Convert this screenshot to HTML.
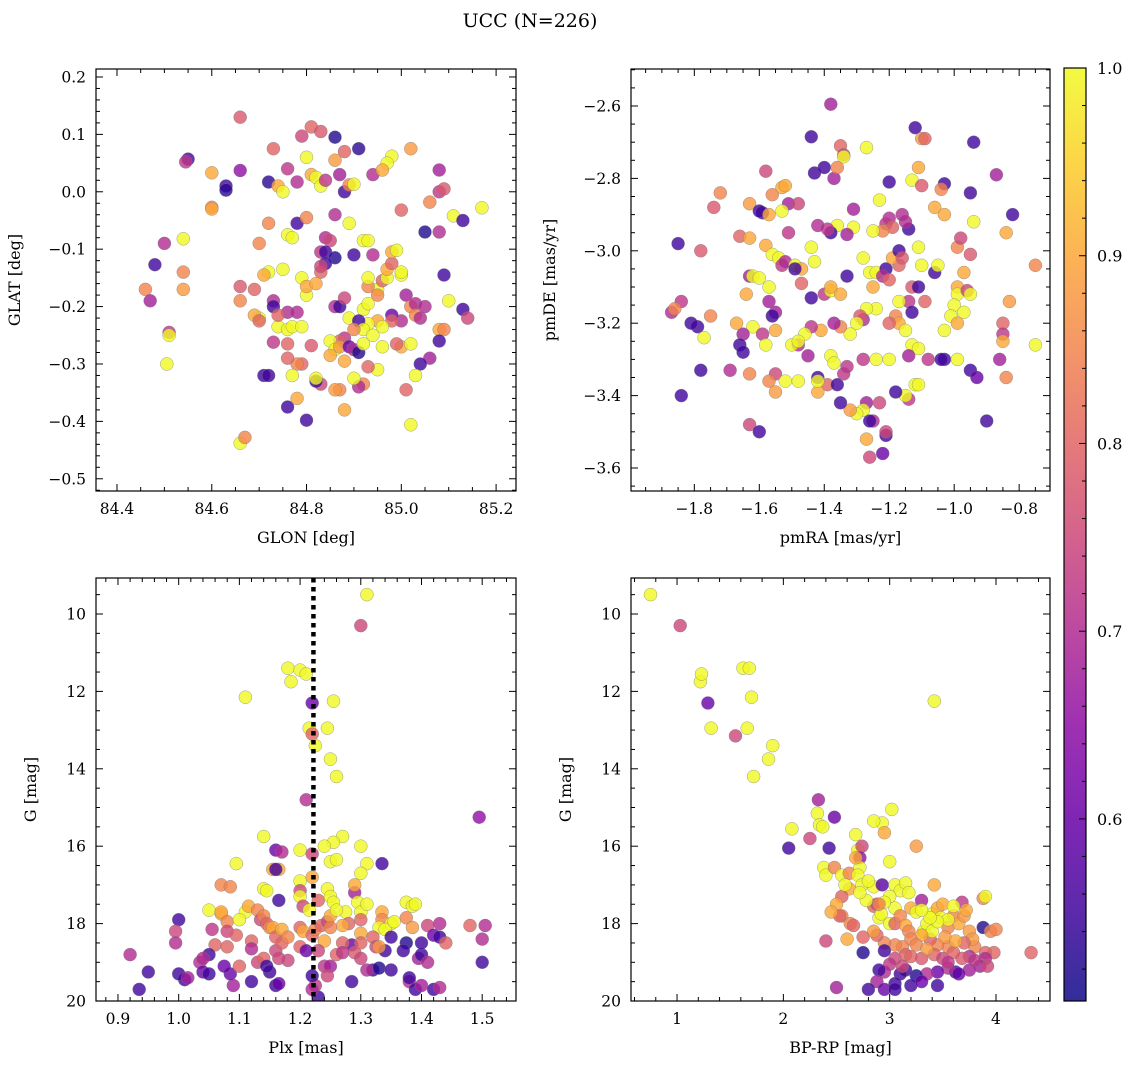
<!DOCTYPE html>
<html><head><meta charset="utf-8"><style>
html,body{margin:0;padding:0;background:#fff;}
svg{display:block;font-family:"DejaVu Serif","Liberation Serif",serif;}
</style></head><body>
<svg id="chart" width="1136" height="1068" viewBox="0 0 1136 1068" xmlns="http://www.w3.org/2000/svg">
<text x="530" y="27" font-size="19" text-anchor="middle">UCC (N=226)</text>
</svg>
<script>
// Panel 1: GLON / GLAT / membership probability
const glon=[84.66,84.81,84.83,84.79,84.86,84.91,84.73,85.02,84.55,84.545,84.88,84.86,84.8,84.6,84.66,84.98,84.97,84.94,84.76,84.63,84.63,84.72,84.74,84.75,84.78,84.81,84.82,84.83,84.84,84.87,84.88,84.89,84.9,84.96,85.0,85.06,85.08,85.09,85.08,84.6,84.6,84.48,84.5,84.54,84.46,84.47,84.54,84.54,84.51,84.51,84.505,84.66,84.67,84.72,84.78,84.8,84.86,84.89,84.92,84.84,84.85,84.83,84.84,84.9,84.86,84.84,84.83,84.79,84.75,84.76,84.77,84.7,84.72,84.71,84.66,84.66,84.69,84.7,84.69,84.7,84.73,84.73,84.76,84.78,84.74,84.76,84.77,84.79,84.74,84.8,84.8,84.82,84.83,84.86,84.89,84.92,84.93,84.95,84.95,84.96,84.97,84.97,84.98,84.98,84.99,85.0,85.0,85.01,85.02,85.0,85.03,85.05,85.08,85.11,85.13,85.17,85.09,85.1,85.13,85.14,85.08,85.09,85.03,85.04,85.05,84.98,84.98,84.95,84.96,84.93,84.91,84.92,84.88,84.87,84.85,84.86,84.87,84.89,84.9,84.91,84.92,84.94,84.96,85.0,84.99,85.08,85.06,85.04,85.03,85.01,84.95,84.93,84.92,84.91,84.9,84.87,84.86,84.88,84.83,84.82,84.82,84.79,84.78,84.76,84.77,84.76,84.8,84.71,84.72,84.78,84.81,84.85,84.88,84.9,85.02,85.02,84.76,84.73,84.87,84.88,84.93,84.93,84.94,84.93];
const glat=[0.13,0.113,0.105,0.097,0.095,0.075,0.075,0.075,0.057,0.052,0.07,0.055,0.06,0.033,0.037,0.062,0.05,0.03,0.04,0.01,0.003,0.017,0.01,0.0,0.017,0.03,0.025,0.01,0.02,0.03,0.0,0.012,0.013,0.038,-0.032,-0.018,0.0,0.005,0.038,-0.027,-0.03,-0.127,-0.09,-0.082,-0.17,-0.19,-0.14,-0.17,-0.245,-0.25,-0.3,-0.438,-0.428,-0.055,-0.055,-0.045,-0.04,-0.055,-0.085,-0.08,-0.085,-0.105,-0.105,-0.11,-0.115,-0.125,-0.14,-0.15,-0.135,-0.075,-0.08,-0.09,-0.14,-0.145,-0.165,-0.19,-0.17,-0.22,-0.215,-0.225,-0.19,-0.2,-0.21,-0.21,-0.235,-0.24,-0.235,-0.235,-0.215,-0.18,-0.165,-0.16,-0.13,-0.2,-0.22,-0.205,-0.195,-0.17,-0.18,-0.155,-0.15,-0.135,-0.125,-0.105,-0.102,-0.145,-0.14,-0.18,-0.2,-0.225,-0.195,-0.07,-0.07,-0.042,-0.05,-0.028,-0.145,-0.19,-0.205,-0.22,-0.24,-0.24,-0.215,-0.22,-0.2,-0.215,-0.225,-0.225,-0.235,-0.23,-0.225,-0.24,-0.255,-0.26,-0.26,-0.275,-0.27,-0.27,-0.275,-0.28,-0.265,-0.25,-0.27,-0.27,-0.265,-0.26,-0.29,-0.3,-0.32,-0.345,-0.31,-0.305,-0.335,-0.34,-0.325,-0.345,-0.345,-0.38,-0.335,-0.33,-0.325,-0.3,-0.3,-0.29,-0.32,-0.375,-0.398,-0.32,-0.32,-0.36,-0.268,-0.285,-0.295,-0.24,-0.406,-0.265,-0.265,-0.262,-0.2,-0.185,-0.165,-0.15,-0.11,-0.085];
const prob1=[.78,.8,.78,.75,.52,.53,.8,.88,.55,.72,.8,.88,1,.9,.65,1,1,.7,.72,.55,.53,.53,.9,1,.7,.9,1,1,.72,.68,.55,.85,1,.9,.8,.85,.72,.78,.68,.85,.9,.55,.7,1,.85,.68,.85,.88,.72,1,1,1,.85,.85,.55,.85,.7,1,1,.7,.75,.72,.55,.55,.52,.55,.8,1,1,1,1,.85,1,.9,.78,.85,.8,1,.9,.8,.7,.55,.7,.7,1,1,1,1,.8,1,.9,.9,.75,.7,1,1,1,1,.85,.8,1,.9,.8,.9,1,1,1,.68,.85,.7,.7,.52,.7,1,.55,1,.55,1,.55,.75,.9,.85,.85,.7,.7,.6,.8,.9,1,1,.55,1,.72,.8,1,1,.88,.6,.7,.52,1,1,1,.9,.8,.55,.68,.55,1,.8,1,.8,.85,.7,1,.85,.88,.9,.75,.55,1,.8,.85,.8,1,.55,.55,.55,.55,.9,.78,.9,.9,.85,1,1,.8,.72,.55,.75,.85,1,.7,1];

// Panel 2: pmRA / pmDE
const pmra=[-1.38,-1.12,-0.94,-1.44,-1.1,-1.09,-1.35,-1.27,-1.34,-1.34,-1.43,-1.4,-1.37,-1.36,-1.11,-1.13,-1.1,-1.03,-1.04,-0.95,-0.87,-1.2,-1.58,-1.72,-1.74,-1.63,-1.56,-1.53,-1.52,-1.51,-1.53,-1.48,-1.59,-1.6,-1.57,-1.23,-1.31,-1.2,-1.21,-1.19,-1.22,-1.25,-1.14,-1.15,-1.16,-1.06,-1.03,-0.94,-0.82,-0.84,-1.36,-1.31,-1.33,-1.38,-1.39,-1.42,-1.44,-1.51,-1.66,-1.63,-1.58,-1.56,-1.54,-1.53,-1.52,-1.49,-1.47,-1.43,-1.49,-1.85,-1.78,-1.63,-1.62,-1.6,-1.57,-1.57,-1.64,-1.55,-1.47,-1.44,-1.4,-1.38,-1.35,-1.38,-1.33,-1.28,-1.26,-1.24,-1.21,-1.22,-1.2,-1.17,-1.19,-1.17,-1.16,-1.11,-1.13,-1.06,-1.05,-0.99,-0.98,-0.95,-0.97,-0.99,-0.99,-1.0,-0.96,-0.95,-0.97,-1.01,-0.99,-1.03,-1.03,-1.09,-1.11,-1.14,-1.13,-1.18,-1.17,-1.25,-1.24,-1.27,-1.28,-1.29,-1.3,-1.32,-1.35,-1.37,-1.41,-1.44,-1.46,-1.48,-1.5,-1.48,-1.55,-1.56,-1.62,-1.65,-1.66,-1.65,-1.75,-1.79,-1.81,-1.84,-1.87,-1.86,-1.77,-1.67,-1.59,-1.58,-1.55,-1.52,-1.48,-1.45,-1.42,-1.38,-1.37,-1.39,-1.36,-1.34,-1.33,-1.28,-1.24,-1.2,-1.13,-1.11,-1.14,-1.08,-1.04,-0.99,-0.95,-0.93,-0.86,-0.85,-0.85,-0.85,-0.84,-0.83,-0.75,-0.75,-0.9,-1.12,-1.11,-1.14,-1.15,-1.18,-1.23,-1.27,-1.28,-1.3,-1.32,-1.35,-1.42,-1.55,-1.57,-1.63,-1.69,-1.78,-1.84,-1.63,-1.6,-1.25,-1.26,-1.21,-1.21,-1.27,-1.22,-1.26,-1.42,-1.17,-1.2,-1.15,-1.1];
const pmde=[-2.595,-2.66,-2.7,-2.685,-2.69,-2.69,-2.71,-2.715,-2.735,-2.74,-2.785,-2.77,-2.8,-2.77,-2.77,-2.805,-2.82,-2.815,-2.83,-2.84,-2.79,-2.81,-2.78,-2.84,-2.88,-2.87,-2.845,-2.825,-2.82,-2.87,-2.89,-2.87,-2.895,-2.89,-2.9,-2.86,-2.885,-2.91,-2.925,-2.935,-2.945,-2.945,-2.94,-2.92,-2.9,-2.88,-2.9,-2.92,-2.9,-2.95,-2.93,-2.935,-2.955,-2.95,-2.94,-2.93,-2.99,-2.95,-2.96,-2.965,-2.985,-3.01,-3.02,-3.04,-3.03,-3.04,-3.05,-3.03,-3.05,-2.98,-3.0,-3.07,-3.07,-3.075,-3.1,-3.14,-3.12,-3.17,-3.09,-3.13,-3.12,-3.11,-3.12,-3.1,-3.07,-3.02,-3.06,-3.06,-3.05,-3.07,-3.08,-3.04,-3.02,-3.0,-3.02,-2.99,-3.1,-3.06,-3.04,-2.99,-2.965,-3.01,-3.06,-3.1,-3.12,-3.15,-3.11,-3.12,-3.17,-3.18,-3.2,-3.22,-3.3,-3.14,-3.1,-3.14,-3.17,-3.18,-3.2,-3.1,-3.16,-3.16,-3.19,-3.18,-3.2,-3.23,-3.21,-3.2,-3.22,-3.21,-3.23,-3.26,-3.26,-3.25,-3.22,-3.18,-3.21,-3.23,-3.26,-3.28,-3.18,-3.21,-3.2,-3.14,-3.17,-3.16,-3.24,-3.2,-3.23,-3.26,-3.34,-3.36,-3.36,-3.29,-3.35,-3.29,-3.31,-3.37,-3.37,-3.34,-3.32,-3.3,-3.3,-3.3,-3.26,-3.27,-3.29,-3.3,-3.3,-3.3,-3.33,-3.35,-3.3,-3.2,-3.23,-3.25,-3.35,-3.14,-3.04,-3.26,-3.47,-3.37,-3.37,-3.41,-3.4,-3.39,-3.42,-3.42,-3.44,-3.45,-3.44,-3.42,-3.39,-3.39,-3.36,-3.34,-3.33,-3.33,-3.4,-3.48,-3.5,-3.47,-3.47,-3.51,-3.5,-3.52,-3.56,-3.57,-3.36,-3.14,-3.2,-3.22,-3.04];
const prob2=[.68,.55,.55,.55,.88,.8,.8,1,.75,1,.55,.55,.68,.85,.9,1,.78,.55,.85,.55,.68,.55,.75,.85,.78,.88,.85,.9,.9,.68,1,.75,.55,.55,.9,1,.68,.7,.72,.8,.85,1,.55,.7,.7,.9,.9,1,.55,.9,1,1,.68,.55,.72,.7,1,.72,.8,.9,.9,1,1,.72,.7,1,.9,1,.55,.55,.78,.68,1,1,1,.68,.9,.68,.8,.55,.72,1,.9,.9,.55,1,1,1,.55,.7,.8,.8,.9,.55,.78,1,.78,.55,1,.85,.75,.78,.9,.9,1,1,.75,1,1,1,.9,1,.55,.8,.55,.72,.55,.85,.9,.9,1,1,.7,.78,1,1,.85,.68,.9,.72,1,.7,1,1,.9,.55,1,.68,.55,.55,.85,.55,.55,.72,.7,.85,1,.9,.72,1,.75,1,1,.68,.55,1,1,.8,.55,.72,.72,.72,1,1,1,1,.68,.72,.55,1,.55,.6,.68,.8,.72,.9,.85,.88,.85,1,.55,1,1,.72,1,.55,.75,.68,1,1,.88,.55,.9,.88,.85,.85,.7,.55,.55,.75,.55,.7,.55,.55,.75,.9,.6,.75,1,1,.8,1,1];

// Panel 3: Plx / G
const plx=[1.31,1.30,1.18,1.2,1.21,1.185,1.11,1.22,1.255,1.215,1.245,1.22,1.225,1.25,1.26,1.21,1.14,1.27,1.255,1.24,1.3,1.495,1.2,1.25,1.26,1.095,1.16,1.17,1.22,1.155,1.165,1.16,1.31,1.2,1.22,1.2,1.3,1.29,1.29,1.335,1.07,1.085,1.05,1.11,1.14,1.145,1.165,1.2,1.205,1.215,1.23,1.245,1.25,1.255,1.275,1.295,1.3,1.31,1.335,1.335,1.3,1.28,1.35,1.33,1.375,1.385,1.39,1.07,1.07,1.08,1.115,1.1,1.13,1.135,1.14,1.145,1.15,1.155,1.16,1.17,1.2,1.205,1.22,1.225,1.235,1.245,1.25,1.26,1.27,1.24,1.285,1.3,1.32,1.325,1.34,1.355,1.375,1.385,1.41,1.43,1.48,1.505,1.5,1.42,1.43,1.44,1.35,1.34,1.375,1.395,1.4,1.37,1.29,1.3,1.32,1.33,1.38,1.39,1.4,1.5,1.285,1.24,1.25,1.23,1.26,1.27,1.25,1.245,1.225,1.23,1.22,1.16,1.165,1.15,1.16,1.17,1.18,1.12,1.12,1.13,1.14,1.145,1.12,1.09,1.085,1.1,1.055,1.06,1.08,1.08,1.095,1.05,1.035,1.04,1.0,0.995,0.995,1.01,0.95,0.92,0.935,1.0,1.015,1.04,1.05,1.075,1.42,1.43,1.41,1.38,1.35,1.31,1.22,1.27,1.3,1.33,1.2,1.21,1.18,1.165,1.4];
const gmag3=[9.5,10.3,11.4,11.45,11.55,11.75,12.15,12.3,12.25,12.95,12.95,13.1,13.4,13.75,14.2,14.8,15.75,15.75,15.9,16.0,16.0,15.25,16.1,16.4,16.35,16.45,16.1,16.15,16.2,16.6,16.6,16.6,16.45,16.9,16.8,17.15,16.7,17.2,17.0,16.45,17.0,17.05,17.65,17.7,17.1,17.15,17.4,17.3,17.55,17.65,17.4,17.1,17.3,17.45,17.7,17.45,17.7,17.5,17.7,17.9,17.9,18.0,18.0,18.1,17.45,17.55,17.5,17.75,17.7,17.95,17.55,17.9,17.65,17.9,17.8,18.0,18.1,18.1,18.35,18.15,18.1,18.2,18.3,18.15,18.05,17.95,17.8,17.65,18.05,18.45,18.55,18.25,18.35,18.6,18.15,17.95,17.85,18.1,18.05,18.0,18.05,18.05,18.4,18.3,18.35,18.5,18.35,18.7,18.5,18.9,18.8,18.7,18.75,18.9,19.2,19.15,19.5,19.7,19.6,19.0,19.5,19.1,19.1,18.7,18.8,18.5,18.1,19.35,19.6,19.9,19.7,19.6,19.55,19.25,18.7,18.5,18.35,18.45,18.65,19.0,18.9,19.1,19.5,19.6,19.3,19.1,18.15,18.55,18.6,18.2,18.3,18.8,19.0,18.9,17.9,18.2,18.5,19.45,19.25,18.8,19.7,19.3,19.4,19.25,19.3,19.1,19.7,19.65,19.0,19.4,19.2,19.2,19.35,18.75,18.5,18.6,18.6,18.7,18.95,18.9,18.5];
const prob3=[1,.75,1,1,1,1,1,.6,1,1,1,.8,1,1,1,.7,1,1,1,1,1,.65,1,1,1,1,.6,.7,.75,.9,.9,.55,1,1,.9,.75,1,.68,.9,.55,.85,.85,1,1,1,1,.55,1,.75,1,.8,1,1,1,1,1,1,1,.9,.85,.8,.8,1,1,1,1,1,.9,.9,.85,.9,1,.85,.75,.85,.8,.85,.9,.8,.9,.8,.9,.8,.85,.8,.75,.9,1,.9,.9,.6,.9,.8,.75,1,1,.85,.88,.75,.7,.8,.7,.7,.6,.55,.8,.55,.55,.52,.68,.55,.55,.78,.75,.55,.52,.7,.55,.68,.55,.55,.72,.68,.75,.8,.8,.85,.75,.72,.55,.7,.55,.6,.55,.75,.8,.85,.8,.7,.75,.8,.55,.55,.68,.6,.8,.72,.8,.8,.75,.8,.55,.7,.7,.55,.75,.7,.55,.55,.7,.55,.55,.68,.6,.55,.6,.55,.7,.7,.55,.55,.7,.55,.72,.8,.88,.8,.6,.75,.75,.55];

// Panel 4: BP-RP / G
const bprp=[0.75,1.03,1.22,1.23,1.62,1.68,1.7,1.29,1.32,1.66,1.55,1.9,1.86,1.72,3.42,2.33,2.48,2.32,2.34,2.37,2.08,2.05,2.25,2.43,3.02,2.93,2.95,2.85,2.68,2.7,2.74,2.72,3.0,3.25,2.38,2.4,2.48,2.55,2.62,2.72,2.7,2.62,2.55,2.58,2.74,2.85,2.93,3.05,3.1,3.15,3.18,3.3,3.42,3.68,3.88,3.9,2.5,2.4,2.55,2.63,2.66,2.85,2.88,2.9,2.92,3.0,3.05,3.05,3.1,3.15,3.18,3.2,3.25,3.32,3.35,3.4,3.45,3.48,3.5,3.55,3.6,3.65,3.7,3.75,3.8,3.88,3.95,4.0,3.78,3.7,3.55,3.45,3.38,3.4,3.3,3.2,3.12,3.05,2.95,2.88,2.85,2.75,2.6,2.75,2.95,3.05,3.15,3.2,3.3,3.42,3.5,3.6,3.75,3.9,3.98,4.33,3.9,3.85,3.75,3.62,3.55,3.45,3.35,3.25,3.15,3.1,3.0,2.95,2.9,2.88,3.05,3.2,3.3,3.45,3.12,2.5,2.8,2.95,3.05,3.55,3.65,3.8,3.92,3.68,3.25,3.35,3.52,3.62,3.72,3.6,3.55,3.45,3.38,3.3,3.0,2.95,2.78,2.9,2.72,2.8,2.68,2.53,2.45];
const gmag4=[9.5,10.3,11.75,11.55,11.4,11.4,12.15,12.3,12.95,12.95,13.15,13.4,13.75,14.2,12.25,14.8,15.25,15.15,15.45,15.5,15.55,16.05,15.8,16.05,15.05,15.4,15.65,15.35,15.7,16.1,16.0,16.3,16.4,16.0,16.55,16.75,16.55,16.75,16.7,16.55,16.75,17.1,17.3,17.0,17.0,17.05,17.0,17.0,17.15,16.95,17.2,17.4,17.0,17.45,17.35,17.3,17.5,18.45,17.8,18.0,18.05,17.55,17.5,17.85,17.75,18.0,17.6,18.0,17.8,18.05,18.2,17.6,17.7,18.2,18.0,17.75,17.6,17.85,17.5,18.1,17.8,18.0,17.8,18.2,18.6,18.1,18.2,18.15,18.4,18.5,18.6,18.55,18.4,18.2,18.3,18.4,18.6,18.55,18.5,18.3,18.2,18.35,18.4,18.75,18.7,18.9,18.8,18.85,18.9,18.8,18.9,18.75,18.85,18.75,18.75,18.75,18.9,19.1,19.2,19.25,19.15,19.25,19.3,19.35,19.2,19.3,19.05,19.25,19.2,19.5,19.55,19.6,19.5,19.6,19.1,19.65,19.7,19.7,19.7,19.0,19.3,18.95,19.1,18.9,18.55,18.65,18.35,18.45,17.65,17.55,17.9,17.95,17.85,17.65,17.3,17.45,17.4,17.5,17.2,16.9,16.3,17.8,17.7];
const prob4=[1,.75,1,1,1,1,1,.6,1,1,.75,1,1,1,1,.68,.6,1,1,1,1,.55,.75,.55,1,1,.9,1,1,1,.75,.65,1,.88,1,1,.85,1,.85,1,1,.9,.8,1,1,1,.58,1,1,1,1,.68,.9,.72,.85,1,.9,.75,.85,.85,.8,.8,.75,1,1,1,1,.8,.85,.9,.85,.9,1,1,1,1,.9,1,.9,.85,.85,.9,.88,.88,.85,.52,.85,.85,.88,.8,.85,.85,.8,1,.9,.85,.85,.85,.85,.8,.88,.8,.9,.52,.55,.75,.8,.8,.78,.8,.75,.8,.7,.8,.8,.8,.7,.68,.68,.55,.7,.6,.7,.52,.55,.55,.72,.7,.55,.68,.55,.55,.6,.55,.75,.68,.55,.6,.55,.72,.6,.72,.75,.78,.85,.88,.88,.9,.9,1,1,1,1,1,1,1,1,.85,1,1,.9,.8,.9];

const cbTicks=[0.6,0.7,0.8,0.9,1.0];
const pMin=0.503, pMax=1.0;

const NS='http://www.w3.org/2000/svg';
const svg=document.getElementById('chart');
const stops=['#0d0887','#41049d','#6a00a8','#8f0da4','#b12a90','#cc4778','#e16462','#f2844b','#fca636','#fcce25','#f0f921'];
function hex(h){return [1,3,5].map(i=>parseInt(h.substr(i,2),16));}
function plasma(t){t=Math.max(0,Math.min(1,t));const s=t*10,i=Math.min(9,Math.floor(s)),f=s-i;const a=hex(stops[i]),b=hex(stops[i+1]);return 'rgb('+a.map((v,k)=>Math.round(v+(b[k]-v)*f)).join(',')+')';}
function mk(tag,attrs,parent){const e=document.createElementNS(NS,tag);for(const k in attrs)e.setAttribute(k,attrs[k]);(parent||svg).appendChild(e);return e;}
function fmt(v,d){const s=Math.abs(v).toFixed(d);return (v<-1e-9?'\u2212':'')+s;}

const panels=[
 {name:'sky',box:[96,69,516,491],xl:[84.3557,85.242],yl:[-0.5213,0.2139],xs:glon,ys:glat,ps:prob1,xmaj:0.2,xmin:0.05,ymaj:0.1,ymin:0.02,xd:1,yd:1,xlab:'GLON [deg]',ylab:'GLAT [deg]',inv:false},
 {name:'pm',box:[631,69,1050,491],xl:[-1.995,-0.705],yl:[-3.6635,-2.4978],xs:pmra,ys:pmde,ps:prob2,xmaj:0.2,xmin:0.05,ymaj:0.2,ymin:0.05,xd:1,yd:1,xlab:'pmRA [mas/yr]',ylab:'pmDE [mas/yr]',inv:false},
 {name:'plx-g',box:[96,578,516,1001],xl:[0.8638,1.5557],yl:[9.07,20],xs:plx,ys:gmag3,ps:prob3,xmaj:0.1,xmin:0.02,ymaj:2,ymin:0.5,xd:1,yd:0,xlab:'Plx [mas]',ylab:'G [mag]',inv:true,vline:1.222},
 {name:'cmd',box:[631,578,1050,1001],xl:[0.567,4.508],yl:[9.07,20],xs:bprp,ys:gmag4,ps:prob4,xmaj:1,xmin:0.2,ymaj:2,ymin:0.5,xd:0,yd:0,xlab:'BP-RP [mag]',ylab:'G [mag]',inv:true}
];

panels.forEach(P=>{
 const [x0,y0,x1,y1]=P.box;
 const sx=v=>x0+(v-P.xl[0])/(P.xl[1]-P.xl[0])*(x1-x0);
 const sy=P.inv? v=>y0+(v-P.yl[0])/(P.yl[1]-P.yl[0])*(y1-y0) : v=>y1-(v-P.yl[0])/(P.yl[1]-P.yl[0])*(y1-y0);
 const g=mk('g',{});
 
 
 const pts=mk('g',{},g);
 
 
 const clip=mk('clipPath',{id:'c-'+P.name},g);
 mk('rect',{x:x0,y:y0,width:x1-x0,height:y1-y0},clip);
 pts.setAttribute('clip-path','url(#c-'+P.name+')');
 for(let i=0;i<P.xs.length;i++){
  const c=mk('circle',{cx:sx(P.xs[i]).toFixed(1),cy:sy(P.ys[i]).toFixed(1),r:6.5,fill:plasma((P.ps[i]-pMin)/(pMax-pMin)),'fill-opacity':0.8,stroke:'#777','stroke-width':0.5,'stroke-opacity':0.7},pts);
  
  
 }
 if(P.vline!==undefined){
  const l=mk('line',{x1:sx(P.vline),x2:sx(P.vline),y1:y0,y2:y1,stroke:'#000','stroke-width':4.5,'stroke-dasharray':'4.5 4.5'},g);
  
  
 }
 const fr=mk('rect',{x:x0,y:y0,width:x1-x0,height:y1-y0,fill:'none',stroke:'#000','stroke-width':1.2},g);
 
 
 const tk=mk('g',{stroke:'#000','stroke-width':1},g);
 
 
 const xs0=Math.ceil(P.xl[0]/P.xmin-1e-6),xs1=Math.floor(P.xl[1]/P.xmin+1e-6);
 for(let k=xs0;k<=xs1;k++){const v=k*P.xmin,X=sx(v);const maj=Math.abs(v/P.xmaj-Math.round(v/P.xmaj))<1e-6;const L=maj?7:4;
  mk('line',{x1:X,x2:X,y1:y1,y2:y1-L},tk);mk('line',{x1:X,x2:X,y1:y0,y2:y0+L},tk);
  if(maj){const t=mk('text',{x:X,y:y1+23,'font-size':15.5,'text-anchor':'middle',stroke:'none',fill:'#000'},g);t.textContent=fmt(v,P.xd);
   
   }
 }
 const lo=Math.min(...P.yl),hi=Math.max(...P.yl);
 const ys0=Math.ceil(lo/P.ymin-1e-6),ys1=Math.floor(hi/P.ymin+1e-6);
 for(let k=ys0;k<=ys1;k++){const v=k*P.ymin,Y=sy(v);const maj=Math.abs(v/P.ymaj-Math.round(v/P.ymaj))<1e-6;const L=maj?7:4;
  mk('line',{x1:x0,x2:x0+L,y1:Y,y2:Y},tk);mk('line',{x1:x1,x2:x1-L,y1:Y,y2:Y},tk);
  if(maj){const t=mk('text',{x:x0-10,y:Y+5.5,'font-size':15.5,'text-anchor':'end',stroke:'none',fill:'#000'},g);t.textContent=fmt(v,P.yd);
   
   }
 }
 const xt=mk('text',{x:(x0+x1)/2,y:y1+52,'font-size':16,'text-anchor':'middle'},g);xt.textContent=P.xlab;
 
 
 const yx=x0-(P.inv?60:76),ym=(y0+y1)/2;
 const yt=mk('text',{x:yx,y:ym,'font-size':16,'text-anchor':'middle',transform:'rotate(-90 '+yx+' '+ym+')'},g);yt.textContent=P.ylab;
 
 
});

const cb={x0:1064,x1:1086,y0:68,y1:1001};
const defs=mk('defs',{});
const lg=mk('linearGradient',{id:'cbg',x1:0,y1:1,x2:0,y2:0},defs);
for(let i=0;i<=20;i++){mk('stop',{offset:(i/20),'stop-color':plasma(i/20),'stop-opacity':0.85},lg);}
const cg=mk('g',{});


const cr=mk('rect',{x:cb.x0,y:cb.y0,width:cb.x1-cb.x0,height:cb.y1-cb.y0,fill:'url(#cbg)',stroke:'#000','stroke-width':1.2},cg);


const cy=v=>cb.y1-(v-pMin)/(pMax-pMin)*(cb.y1-cb.y0);
for(let k=Math.ceil(pMin/0.02);k<=50;k++){const v=k*0.02,Y=cy(v);const maj=cbTicks.some(t=>Math.abs(t-v)<1e-6);
 mk('line',{x1:cb.x1,x2:cb.x1-(maj?7:4),y1:Y,y2:Y,stroke:'#000','stroke-width':1},cg);}
cbTicks.forEach(v=>{const t=mk('text',{x:cb.x1+11,y:cy(v)+6,'font-size':16},cg);t.textContent=v.toFixed(1);
 
 });
</script>
</body></html>
